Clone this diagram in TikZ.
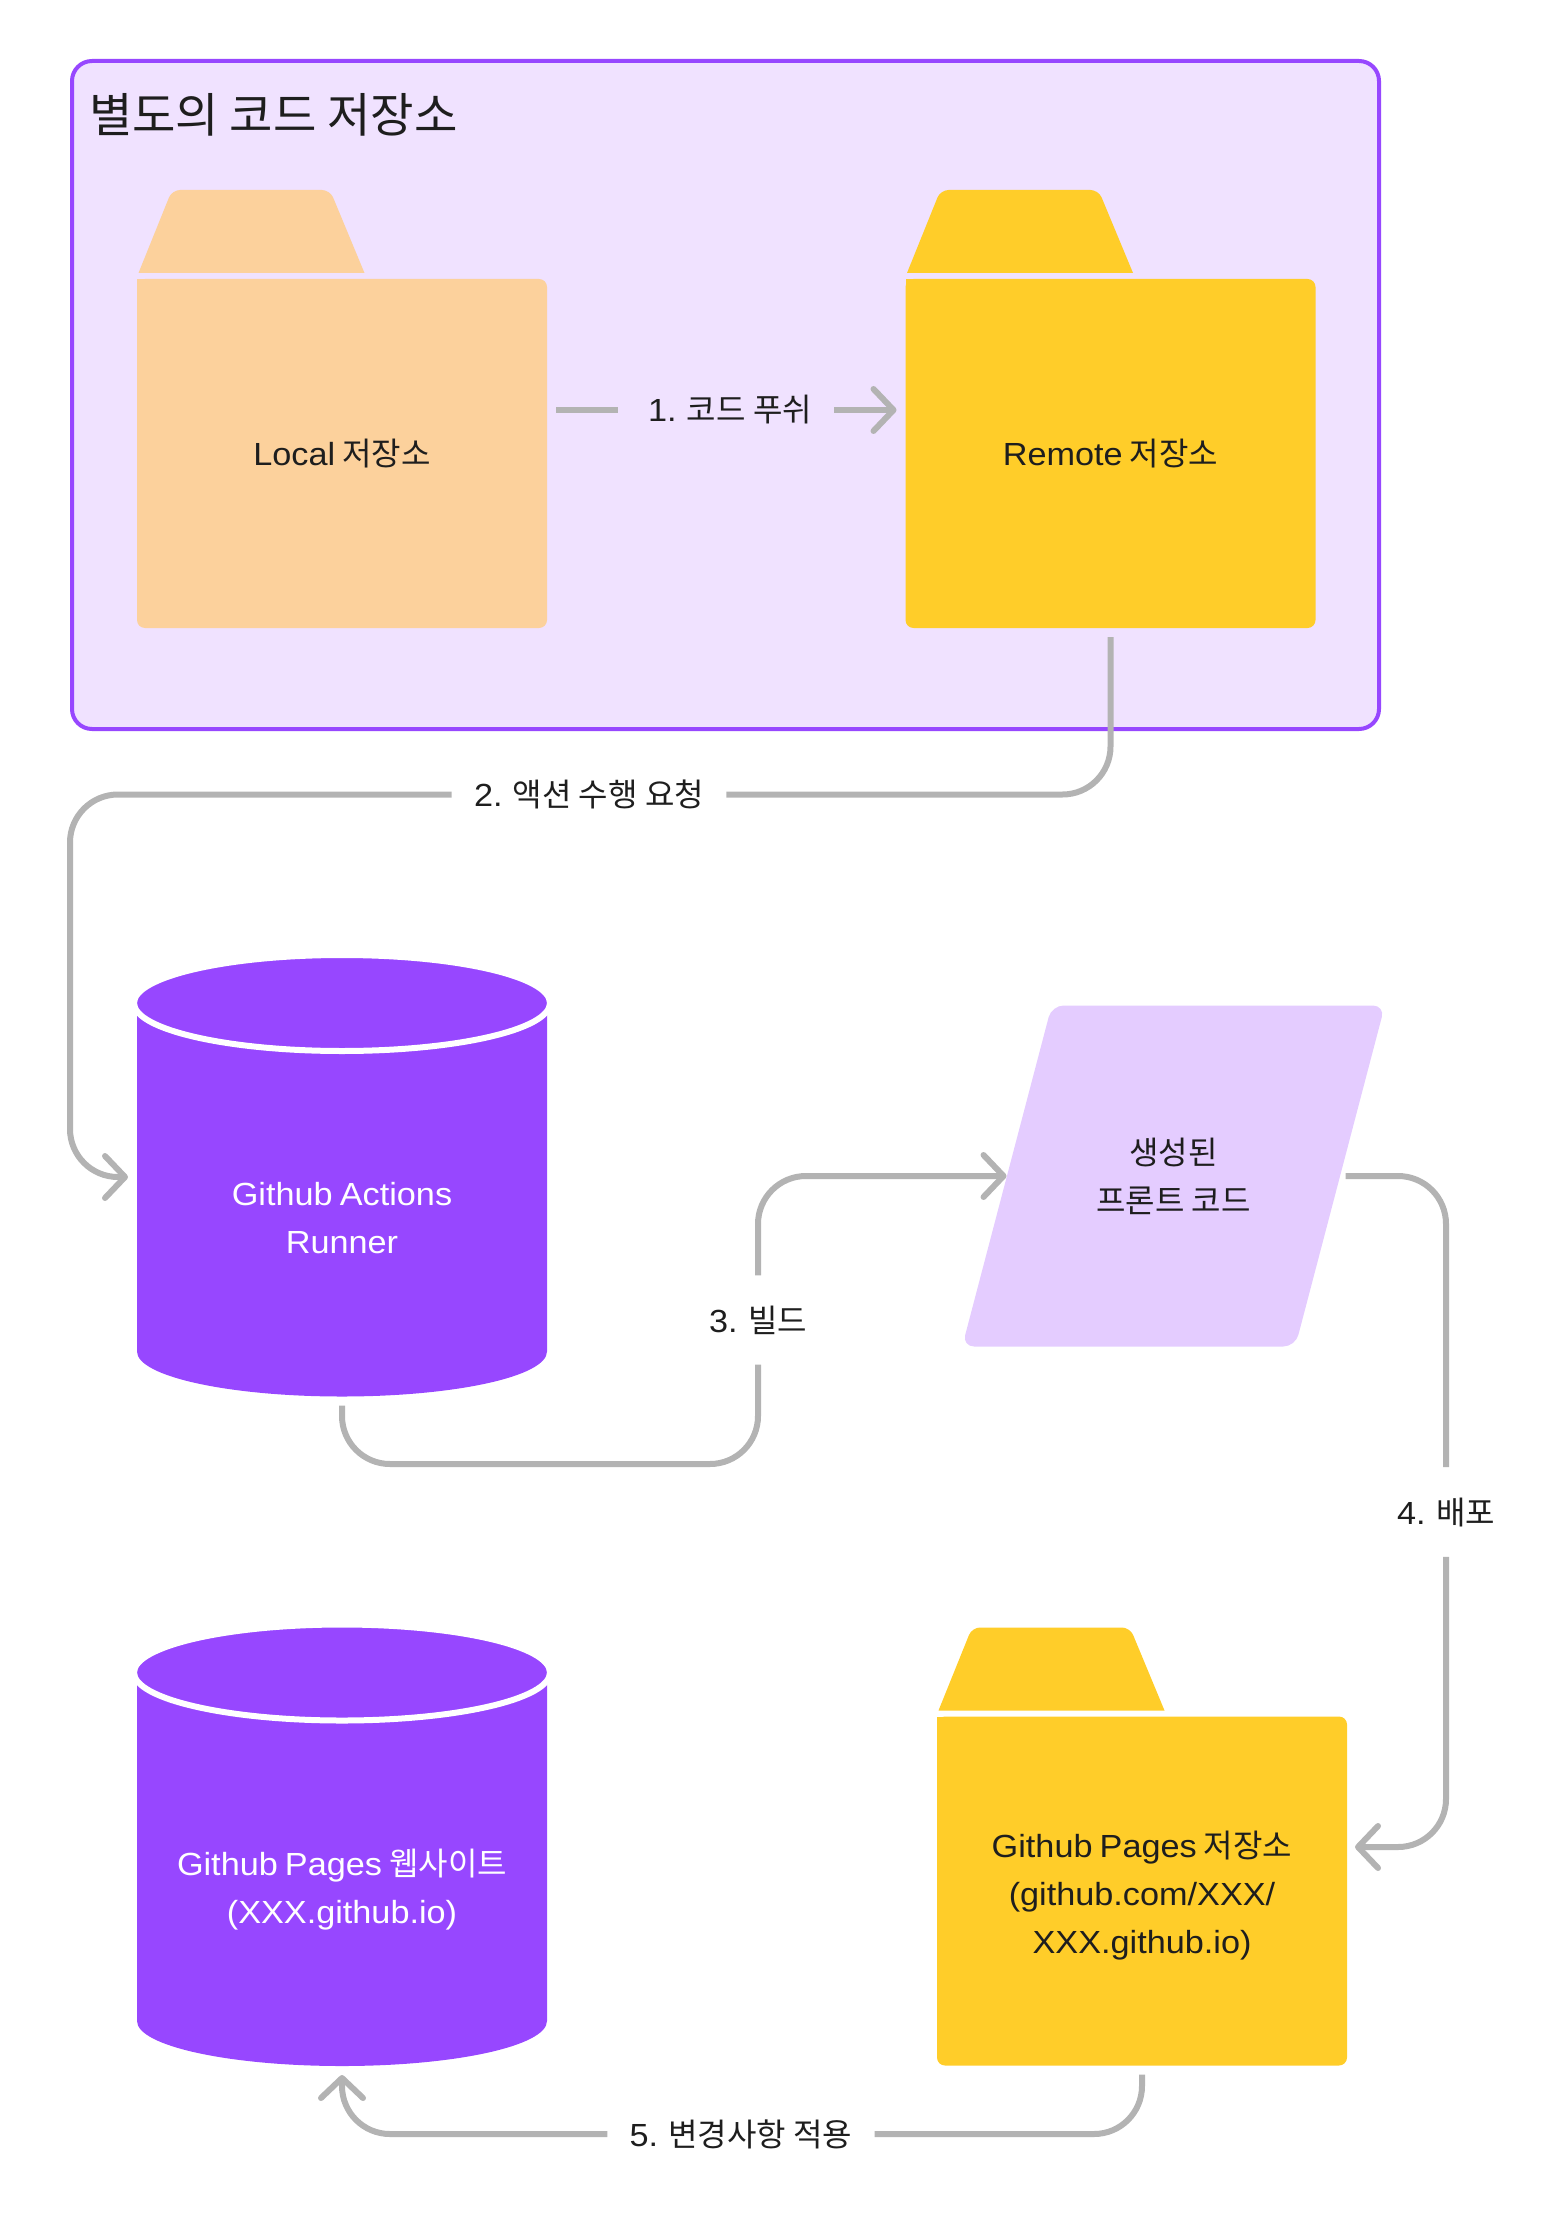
\documentclass[tikz,border=0pt]{standalone}
\usepackage{fontspec}
\setmainfont[FakeStretch=1.07,WordSpace=0.75]{Liberation Sans}
\newfontfamily\kofont{Noto Sans CJK KR}
\newcommand{\ko}[1]{{\kofont #1}}
\usetikzlibrary{arrows.meta,calc,shapes.geometric}

\definecolor{framefill}{HTML}{F0E2FF}
\definecolor{purplemain}{HTML}{9747FF}
\definecolor{lilacfill}{HTML}{E4CCFF}
\definecolor{peachfill}{HTML}{FCD19C}
\definecolor{yellowfill}{HTML}{FFCD29}
\definecolor{linegray}{HTML}{B3B3B3}
\definecolor{inkdark}{HTML}{1E1E1E}

\begin{document}
\begin{tikzpicture}
        [
            x = 0.5pt, y = -0.5pt,
            every node/.style = {font=\fontsize{16}{24}\selectfont, text=inkdark, align=center},
            folderbody/.style = {shape=rectangle, minimum width=205pt, minimum height=174.5pt,
                                 rounded corners=4pt, inner sep=0pt, outer sep=4.5pt},
            dbbody/.style     = {shape=rectangle, minimum width=205pt, minimum height=219.5pt,
                                 inner sep=0pt, outer sep=4.5pt},
            frontcode/.style  = {shape=trapezium, trapezium left angle=53.5, trapezium right angle=126.5,
                                 trapezium stretches=true, minimum width=211.5pt, minimum height=170.5pt,
                                 fill=lilacfill, rounded corners=6pt, inner sep=0pt},
            steplabel/.style  = {inner xsep=11pt, inner ysep=15pt},
            conn/.style       = {draw=linegray, line width=3pt, rounded corners=24pt},
            connarrow/.style  = {conn, -{Straight Barb[length=10pt, width=21pt, round]}},
        ]
        % outer frame
        \node [shape=rectangle, draw=purplemain, fill=framefill, line width=2pt, rounded corners=10pt,
               minimum width=653.5pt, minimum height=334pt, inner sep=0pt] (frame) at (725.5,395) {};
        \node [anchor=west, font=\fontsize{23.6}{30}\selectfont] (frameTitle) at (82,115) {\ko{별도의 코드 저장소}};

        % folders
        \node [folderbody, fill=peachfill] (local) at (342,453.5) {Local \ko{저장소}};
        \node [folderbody, fill=yellowfill] (remote) at (1110.5,453.5) {Remote \ko{저장소}};
        \node [folderbody, fill=yellowfill] (pages) at (1142,1891)
            {\rule{0pt}{18pt}Github Pages \ko{저장소}\\(github.com/XXX/\\XXX.github.io)};
        \foreach \body/\col in {local/peachfill, remote/yellowfill, pages/yellowfill} {
            \begin{scope}[shift={(\body.center)}]
                \fill [\col] (-205,-174.5) rectangle (-190,-160);
                \fill [\col, rounded corners=4pt] (-203.5,-180.5) -- (-170,-263.5) -- (-12,-263.5)
                    [sharp corners] -- (22.5,-180.5) -- cycle;
            \end{scope}
        }

        % databases
        \node [dbbody] (runner) at (342,1177) {};
        \node [dbbody] (website) at (342,1846.5) {};
        \foreach \db in {runner, website} {
            \begin{scope}[shift={(\db.center)}]
                \fill [purplemain] (-205,-174) -- (-205,174.5)
                    arc [start angle=180, end angle=360, x radius=102.5pt, y radius=22.5pt]
                    -- (205,-174) -- cycle;
                \filldraw [fill=purplemain, draw=white, line width=3pt]
                    (0,-174) ellipse [x radius=104pt, y radius=24pt];
            \end{scope}
        }
        \node [text=white] (runnerText) at (342,1218.5) {Github Actions\\Runner};
        \node [text=white] (websiteText) at (342,1890) {Github Pages \ko{웹사이트}\\(XXX.github.io)};

        % generated code
        \node [frontcode] (front) at (1173.5,1176) {\ko{생성된}\\\ko{프론트 코드}};

        % step labels
        \node [steplabel] (pushLabel) at (730,410) {1. \ko{코드 푸쉬}};
        \node [steplabel] (actionLabel) at (589,794.5) {2. \ko{액션 수행 요청}};
        \node [steplabel] (buildLabel) at (758,1320) {3. \ko{빌드}};
        \node [steplabel] (deployLabel) at (1446,1512) {4. \ko{배포}};
        \node [steplabel] (applyLabel) at (741,2134) {5. \ko{변경사항 적용}};

        \coordinate (buildLow) at (758,1464);
        \coordinate (pagesIn) at (1355,1847);

        % connectors
        \draw [conn] (local.east |- pushLabel) -- ($(pushLabel.west)+(-8,0)$);
        \draw [connarrow] (pushLabel) -- (remote.west |- pushLabel);
        \draw [conn] (remote.south) |- (actionLabel);
        \draw [connarrow] (actionLabel) -| (70,1177) -- (runner.west);
        \draw [conn] (runner.south) |- (buildLow) -- (buildLabel);
        \draw [connarrow] (buildLabel) |- (front.west);
        \draw [conn] ($(front.east)+(5,0)$) -| (deployLabel);
        \draw [connarrow] (deployLabel) |- (pagesIn);
        \draw [conn] (pages.south) |- (applyLabel);
        \draw [connarrow] (applyLabel) -| (website.south);

        \useasboundingbox (0,0) rectangle (1549,2219);
    \end{tikzpicture}
\end{document}
